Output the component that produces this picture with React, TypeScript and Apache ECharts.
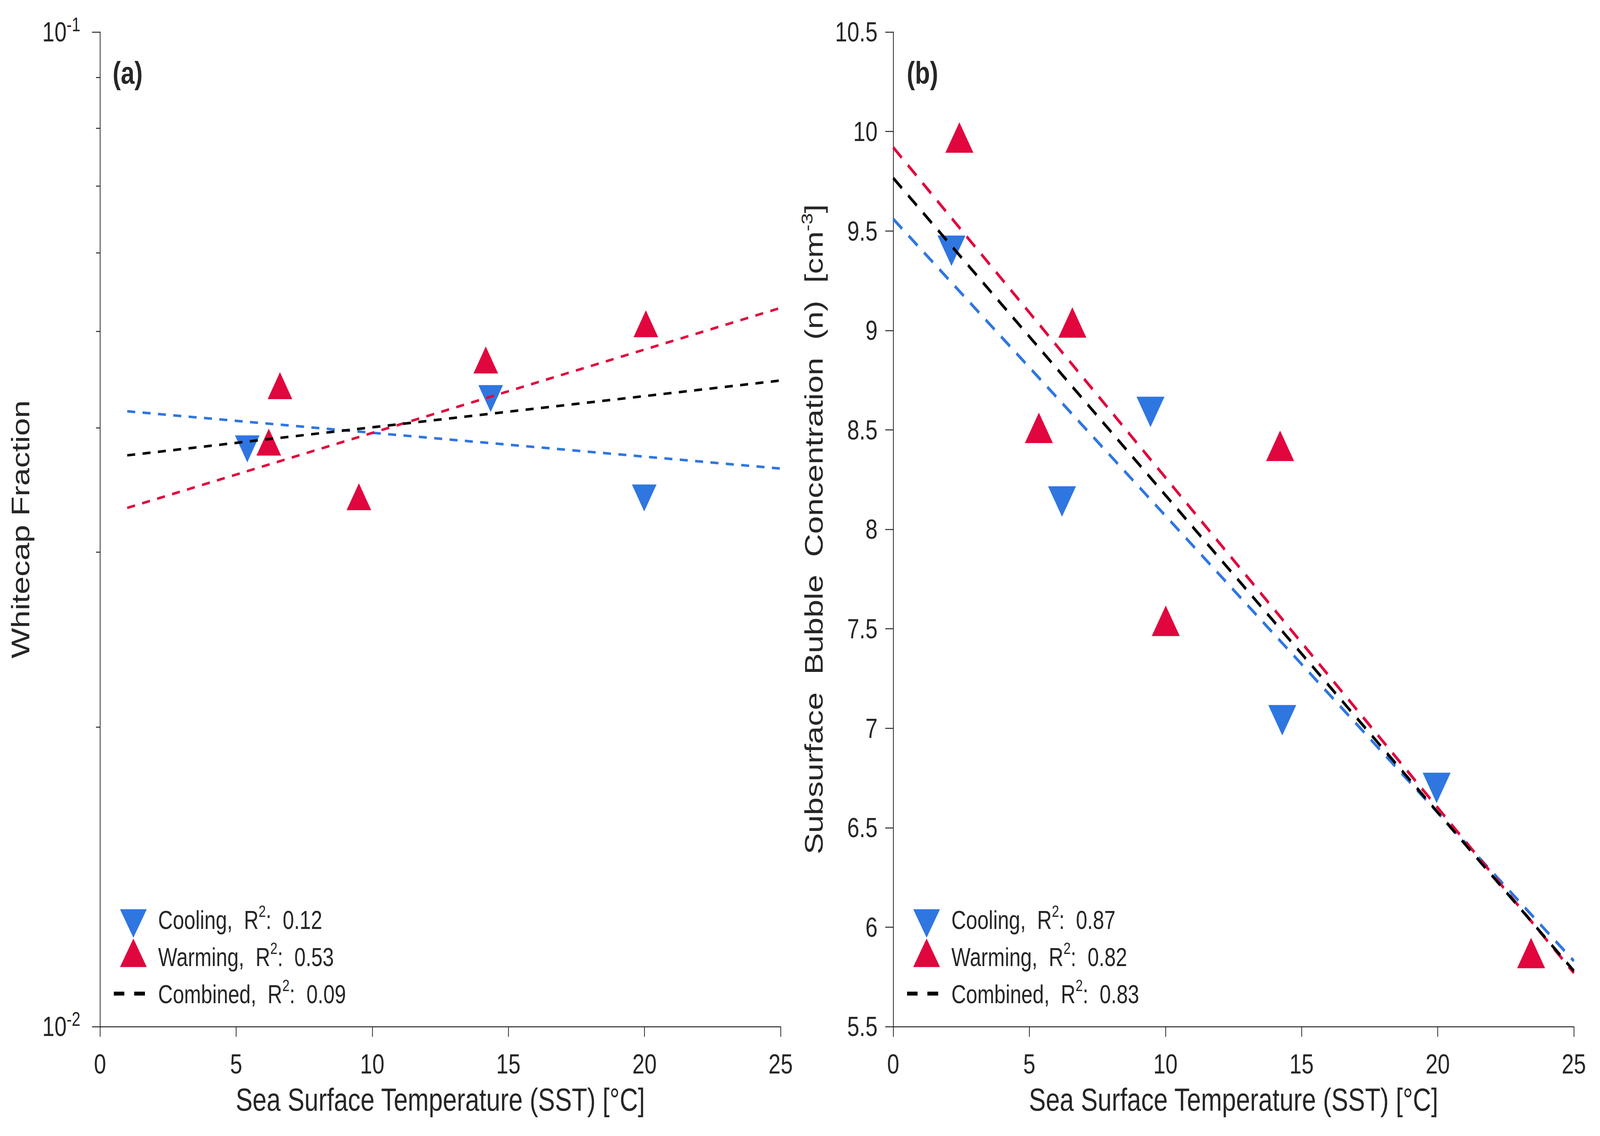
import React, { useEffect, useRef, useState } from "react";
import * as echarts from "echarts";

// ---------- data ----------
const xTicks = [0, 5, 10, 15, 20, 25];

// Panel (a): whitecap fraction (log axis)
const coolA_x = [5.41, 14.35, 19.99];
const coolA_y = [0.0381, 0.0428, 0.034];
const warmA_x = [6.2, 6.61, 9.51, 14.17, 20.05];
const warmA_y = [0.0387, 0.0441, 0.0341, 0.0468, 0.0509];
const fitA_x = [1, 25];
const fitCoolA_y = [0.04156, 0.0364];
const fitWarmA_y = [0.03323, 0.0528];
const fitCombA_y = [0.03753, 0.04463];
const minorTicksA = [0.02, 0.03, 0.04, 0.05, 0.06, 0.07, 0.08, 0.09];
const r2A = [0.12, 0.53, 0.09];

// Panel (b): subsurface bubble concentration
const coolB_x = [2.14, 6.2, 9.45, 14.29, 19.96];
const coolB_y = [9.4, 8.14, 8.59, 7.04, 6.7];
const warmB_x = [2.43, 5.35, 6.58, 10.01, 14.21, 23.43];
const warmB_y = [9.97, 8.51, 9.04, 7.54, 8.42, 5.87];
const fitB_x = [0, 25];
const fitCoolB_y = [9.56, 5.83];
const fitWarmB_y = [9.92, 5.77];
const fitCombB_y = [9.766, 5.78];
const r2B = [0.87, 0.82, 0.83];

const legendNames = ["Cooling", "Warming", "Combined"];

// ---------- style ----------
const W = 5200;
const H = 2908;
const FONT = "'Liberation Sans', Arial, Helvetica, sans-serif";
const TXT = "#262626";
const BLUE = "#2F76E1";
const RED = "#E1063D";
const BLACK = "#000000";

const zip = (xs: number[], ys: number[]) => xs.map((x, i) => [x, ys[i]]);

// legend icons drawn inside a 151 x 95 box (corner specks fix the box)
const BOX = "M0,0L0.01,0L0,0.01ZM151,95L150.99,95L151,94.99Z";
const ICON_COOL = "path://" + BOX + "M32,20L119,20L75.5,93Z";
const ICON_WARM = "path://" + BOX + "M75.5,0L119,73L32,73Z";
const ICON_COMB = "path://" + BOX + "M12,41L46,41L46,51L12,51ZM78,41L113,41L113,51L78,51Z";

const NB = "\u00a0";
const legendLabel = (label: string, r2: number) =>
  `{n|${label},${NB}${NB}R}{s|2}{n|:${NB}${NB}${r2.toFixed(2)}}`;

const legendRich = {
  n: { fontSize: 66, lineHeight: 86, fontFamily: FONT, color: TXT },
  s: { fontSize: 42, lineHeight: 42, verticalAlign: "top", fontFamily: FONT, color: TXT },
};

function makeLegend(suffix: string, r2: number[], left: number) {
  const icons = [ICON_COOL, ICON_WARM, ICON_COMB];
  const colors = [BLUE, RED, BLACK];
  const map: Record<string, string> = {};
  legendNames.forEach((n, i) => (map[`${n} ${suffix}`] = legendLabel(n, r2[i])));
  return {
    left,
    top: 2307.5,
    orient: "vertical",
    itemWidth: 151,
    itemHeight: 95,
    itemGap: 0,
    padding: 0,
    selectedMode: false,
    itemStyle: { borderWidth: 0 },
    data: legendNames.map((n, i) => ({
      name: `${n} ${suffix}`,
      icon: icons[i],
      itemStyle: { color: colors[i], borderWidth: 0 },
    })),
    formatter: (name: string) => map[name] || name,
    textStyle: { fontSize: 66, color: TXT, fontFamily: FONT, rich: legendRich },
  };
}

const axisLine = { show: true, lineStyle: { color: TXT, width: 2.5 } };
const tickStyle = { color: TXT, width: 2.5 };

function xAxis(gridIndex: number) {
  return {
    type: "value",
    gridIndex,
    min: xTicks[0],
    max: xTicks[xTicks.length - 1],
    interval: xTicks[1] - xTicks[0],
    axisLine,
    axisTick: { show: true, length: 26, lineStyle: tickStyle },
    splitLine: { show: false },
    axisLabel: { fontSize: 71, color: TXT, fontFamily: FONT, margin: 60 },
    name: "Sea Surface Temperature (SST) [°C]",
    nameLocation: "middle",
    nameGap: 146,
    nameTextStyle: { fontSize: 82, color: TXT, fontFamily: FONT },
  };
}

function scatter(name: string, xi: number, data: number[][], color: string, size: number[], down: boolean) {
  return {
    type: "scatter",
    name,
    xAxisIndex: xi,
    yAxisIndex: xi,
    data,
    symbol: "triangle",
    symbolRotate: down ? 180 : 0,
    symbolSize: size,
    itemStyle: { color, opacity: 1 },
    z: 2,
    silent: true,
  };
}

function fit(name: string, xi: number, data: number[][], color: string, width: number, dash: number[]) {
  return {
    type: "line",
    name,
    xAxisIndex: xi,
    yAxisIndex: xi,
    data,
    symbol: "none",
    showSymbol: false,
    color,
    itemStyle: { color },
    lineStyle: { color, width, type: dash },
    z: 3,
    silent: true,
  };
}

function viewport() {
  const vw = window.innerWidth || document.documentElement.clientWidth || W;
  const vh = window.innerHeight || document.documentElement.clientHeight || H;
  return { vw, vh };
}

export default function App() {
  const ref = useRef<HTMLDivElement>(null);
  const [vp, setVp] = useState(viewport());

  useEffect(() => {
    document.body.style.margin = "0";
    document.body.style.overflow = "hidden";
    const onResize = () => setVp(viewport());
    window.addEventListener("resize", onResize);
    return () => window.removeEventListener("resize", onResize);
  }, []);

  useEffect(() => {
    if (!ref.current) return;
    const chart = echarts.init(ref.current, undefined, { renderer: "svg", width: W, height: H });
    const dashA = [26, 24];
    const dashB = [38, 28];
    const option: any = {
      animation: false,
      backgroundColor: "#ffffff",
      textStyle: { fontFamily: FONT, color: TXT },
      grid: [
        { left: 325, top: 82, width: 2212, height: 2546, containLabel: false, outerBoundsMode: "none" },
        { left: 2903, top: 82, width: 2212, height: 2546, containLabel: false, outerBoundsMode: "none" },
        { left: 325, top: 82, width: 2212, height: 2546, containLabel: false, outerBoundsMode: "none" },
      ],
      xAxis: [xAxis(0), xAxis(1), { type: "value", gridIndex: 2, min: 0, max: 25, show: false }],
      yAxis: [
        {
          type: "log",
          logBase: 10,
          gridIndex: 0,
          min: 0.01,
          max: 0.1,
          axisLine,
          axisTick: { show: true, length: 26, lineStyle: tickStyle },
          splitLine: { show: false },
          axisLabel: {
            margin: 64,
            color: TXT,
            fontFamily: FONT,
            formatter: (v: number) => `{m|10}{s|${Math.round(Math.log10(v))}}`,
            rich: {
              m: { fontSize: 71, lineHeight: 88, fontFamily: FONT, color: TXT },
              s: { fontSize: 50, lineHeight: 50, verticalAlign: "top", fontFamily: FONT, color: TXT },
            },
          },
          name: "Whitecap Fraction",
          nameLocation: "middle",
          nameGap: 217,
          nameTextStyle: { fontSize: 82, color: TXT, fontFamily: FONT },
        },
        {
          type: "value",
          gridIndex: 1,
          min: 5.5,
          max: 10.5,
          interval: 0.5,
          axisLine,
          axisTick: { show: true, length: 26, lineStyle: tickStyle },
          splitLine: { show: false },
          axisLabel: { fontSize: 71, color: TXT, fontFamily: FONT, margin: 51 },
          name: `{n|Subsurface${NB} Bubble${NB} Concentration${NB} (n)${NB} [cm}{s|-3}{n|]}`,
          nameLocation: "middle",
          nameGap: 210,
          nameTextStyle: {
            fontSize: 82,
            color: TXT,
            fontFamily: FONT,
            rich: {
              n: { fontSize: 82, lineHeight: 96, fontFamily: FONT, color: TXT },
              s: { fontSize: 52, lineHeight: 52, verticalAlign: "top", fontFamily: FONT, color: TXT },
            },
          },
        },
        {
          type: "value",
          gridIndex: 2,
          min: -2,
          max: -1,
          axisLine: { show: false },
          axisLabel: { show: false },
          splitLine: { show: false },
          axisTick: {
            show: true,
            length: 13,
            lineStyle: tickStyle,
            customValues: minorTicksA.map((v) => Math.log10(v)),
          },
        },
      ],
      legend: [makeLegend("(a)", r2A, 358), makeLegend("(b)", r2B, 2936)],
      graphic: [
        {
          type: "text",
          x: 366,
          y: 186,
          style: { text: "(a)", fontSize: 80, fontWeight: "bold", fontFamily: FONT, fill: TXT, align: "left", verticalAlign: "middle" },
        },
        {
          type: "text",
          x: 2947,
          y: 186,
          style: { text: "(b)", fontSize: 80, fontWeight: "bold", fontFamily: FONT, fill: TXT, align: "left", verticalAlign: "middle" },
        },
      ],
      series: [
        scatter("Cooling (a)", 0, zip(coolA_x, coolA_y), BLUE, [80, 69], true),
        scatter("Warming (a)", 0, zip(warmA_x, warmA_y), RED, [80, 69], false),
        fit("Cooling fit (a)", 0, zip(fitA_x, fitCoolA_y), BLUE, 6.5, dashA),
        fit("Warming fit (a)", 0, zip(fitA_x, fitWarmA_y), RED, 6.5, dashA),
        fit("Combined (a)", 0, zip(fitA_x, fitCombA_y), BLACK, 6.5, dashA),
        scatter("Cooling (b)", 1, zip(coolB_x, coolB_y), BLUE, [91, 78], true),
        scatter("Warming (b)", 1, zip(warmB_x, warmB_y), RED, [91, 78], false),
        fit("Cooling fit (b)", 1, zip(fitB_x, fitCoolB_y), BLUE, 8, dashB),
        fit("Warming fit (b)", 1, zip(fitB_x, fitWarmB_y), RED, 8, dashB),
        fit("Combined (b)", 1, zip(fitB_x, fitCombB_y), BLACK, 8, dashB),
      ],
    };
    chart.setOption(option);
    return () => chart.dispose();
  }, []);

  const sx = vp.vw / W;
  const sy = vp.vh / H;
  return (
    <div style={{ position: "fixed", left: 0, top: 0, width: vp.vw, height: vp.vh, overflow: "hidden", background: "#fff" }}>
      <div
        ref={ref}
        style={{ width: W, height: H, transform: `scale(${sx}, ${sy})`, transformOrigin: "0 0", background: "#fff" }}
      />
    </div>
  );
}
